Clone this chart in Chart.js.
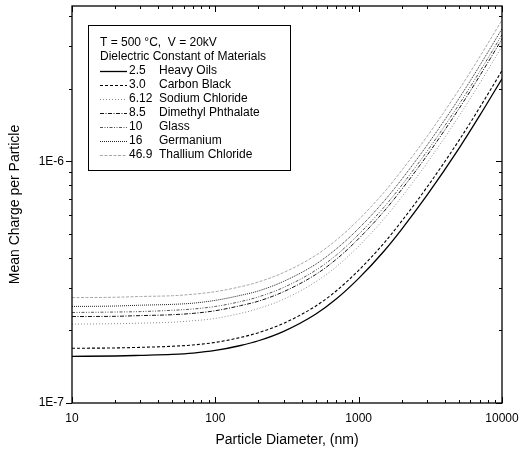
<!DOCTYPE html>
<html>
<head>
<meta charset="utf-8">
<script src="https://cdn.jsdelivr.net/npm/chart.js@4.4.0/dist/chart.umd.min.js"></script>
<style>
  html, body { margin: 0; padding: 0; background: #fff; }
  #wrap { width: 519px; height: 452px; position: relative; }
</style>
</head>
<body>
<div id="wrap"><canvas id="c" width="519" height="452"></canvas></div>
<script>
// Particle diameter, nm
const diameters = [10, 20, 30, 50, 70, 100, 150, 200, 300, 500, 700, 1000, 1500, 2000, 3000, 5000, 7000, 10000];

// Mean charge per particle, in units of 1E-7
const heavyOils     = [1.56, 1.565, 1.575, 1.59, 1.61, 1.65, 1.73, 1.81, 1.98, 2.33, 2.70, 3.28, 4.25, 5.25, 7.25, 11.3, 15.5, 22.0];
const carbonBlack   = [1.685, 1.69, 1.70, 1.717, 1.739, 1.782, 1.868, 1.955, 2.138, 2.516, 2.916, 3.542, 4.59, 5.67, 7.83, 12.2, 16.74, 23.76];
const sodiumChlor   = [2.12, 2.13, 2.14, 2.16, 2.19, 2.24, 2.35, 2.46, 2.69, 3.17, 3.67, 4.46, 5.78, 7.14, 9.86, 15.37, 21.08, 29.92];
const dimethylPhth  = [2.28, 2.285, 2.30, 2.32, 2.35, 2.41, 2.53, 2.64, 2.89, 3.40, 3.94, 4.79, 6.21, 7.67, 10.59, 16.5, 22.63, 32.12];
const glass         = [2.37, 2.38, 2.39, 2.42, 2.45, 2.51, 2.63, 2.75, 3.01, 3.54, 4.10, 4.99, 6.46, 7.98, 11.02, 17.18, 23.56, 33.44];
const germanium     = [2.51, 2.52, 2.54, 2.56, 2.59, 2.66, 2.79, 2.91, 3.19, 3.75, 4.35, 5.28, 6.84, 8.45, 11.67, 18.19, 24.96, 35.42];
const thallium      = [2.73, 2.74, 2.76, 2.78, 2.82, 2.89, 3.03, 3.17, 3.47, 4.08, 4.73, 5.74, 7.44, 9.19, 12.69, 19.78, 27.13, 38.5];

const constants = ['2.5', '3.0', '6.12', '8.5', '10', '16', '46.9'];
const materials = ['Heavy Oils', 'Carbon Black', 'Sodium Chloride', 'Dimethyl Phthalate', 'Glass', 'Germanium', 'Thallium Chloride'];

// axis ticks
const xMajor = [10, 100, 1000, 10000];
const xLabels = ['10', '100', '1000', '10000'];
const yMajor = [1, 10];
const yLabels = ['1E-7', '1E-6'];

const FONT = 'Arial, "Liberation Sans", Helvetica, sans-serif';

const styles = [
    { color: '#000', dash: [], width: 1.3 },
    { color: '#000', dash: [3, 2], width: 1.1 },
    { color: '#8a8a8a', dash: [1, 2], width: 1 },
    { color: '#111', dash: [4, 1.5, 1, 1.5], width: 1 },
    { color: '#555', dash: [3, 1.5, 1, 1.5, 1, 1.5], width: 1 },
    { color: '#222', dash: [1, 1], width: 1 },
    { color: '#a8a8a8', dash: [3, 1.5], width: 1 }
];

const seriesList = [heavyOils, carbonBlack, sodiumChlor, dimethylPhth, glass, germanium, thallium];

const datasets = seriesList.map((vals, i) => ({
    label: constants[i] + ' ' + materials[i],
    data: diameters.map((d, k) => ({ x: d, y: vals[k] })),
    borderColor: styles[i].color,
    borderDash: styles[i].dash,
    borderWidth: styles[i].width,
    pointRadius: 0,
    fill: false,
    cubicInterpolationMode: 'monotone'
}));

// minor ticks for a log scale between min and max
function minorTicks(min, max) {
    const out = [];
    for (let p = Math.floor(Math.log10(min)); p <= Math.ceil(Math.log10(max)); p++) {
        for (let m = 2; m <= 9; m++) {
            const v = m * Math.pow(10, p);
            if (v > min && v < max) out.push(v);
        }
    }
    return out;
}

const framePlugin = {
    id: 'frame',
    afterDraw(chart) {
        const ctx = chart.ctx;
        const a = chart.chartArea;
        const xs = chart.scales.x, ys = chart.scales.y;
        ctx.save();
        ctx.strokeStyle = '#000';
        ctx.lineWidth = 1.3;
        ctx.strokeRect(a.left, a.top, a.right - a.left, a.bottom - a.top);

        ctx.lineWidth = 1;
        ctx.beginPath();
        // x ticks, pointing inward
        xMajor.forEach(v => {
            const px = Math.round(xs.getPixelForValue(v)) + 0.5;
            ctx.moveTo(px, a.bottom); ctx.lineTo(px, a.bottom - 6);
            ctx.moveTo(px, a.top); ctx.lineTo(px, a.top + 6);
        });
        minorTicks(10, 10000).forEach(v => {
            const px = Math.round(xs.getPixelForValue(v)) + 0.5;
            ctx.moveTo(px, a.bottom); ctx.lineTo(px, a.bottom - 3);
            ctx.moveTo(px, a.top); ctx.lineTo(px, a.top + 3);
        });
        // y ticks: outward on left, inward on right
        yMajor.forEach(v => {
            const py = Math.round(ys.getPixelForValue(v)) + 0.5;
            ctx.moveTo(a.left, py); ctx.lineTo(a.left - 6, py);
            ctx.moveTo(a.right, py); ctx.lineTo(a.right - 6, py);
        });
        minorTicks(1, ys.max).forEach(v => {
            const py = Math.round(ys.getPixelForValue(v)) + 0.5;
            ctx.moveTo(a.left, py); ctx.lineTo(a.left - 3, py);
            ctx.moveTo(a.right, py); ctx.lineTo(a.right - 3, py);
        });
        ctx.stroke();

        // tick labels
        ctx.fillStyle = '#000';
        ctx.font = '12px ' + FONT;
        ctx.textAlign = 'center';
        ctx.textBaseline = 'top';
        xMajor.forEach((v, i) => {
            ctx.fillText(xLabels[i], xs.getPixelForValue(v), a.bottom + 10);
        });
        ctx.textAlign = 'right';
        ctx.textBaseline = 'middle';
        yMajor.forEach((v, i) => {
            ctx.fillText(yLabels[i], a.left - 8, ys.getPixelForValue(v));
        });

        // axis titles
        ctx.font = '14px ' + FONT;
        ctx.textAlign = 'center';
        ctx.fillText('Particle Diameter, (nm)', (a.left + a.right) / 2, 440);
        ctx.save();
        ctx.translate(15, (a.top + a.bottom) / 2);
        ctx.rotate(-Math.PI / 2);
        ctx.fillText('Mean Charge per Particle', 0, 0);
        ctx.restore();

        // legend box
        ctx.lineWidth = 1;
        ctx.strokeRect(88.5, 25.5, 202, 145);
        ctx.font = '12px ' + FONT;
        ctx.textAlign = 'left';
        ctx.fillText('T = 500 \u00B0C,  V = 20kV', 100, 43);
        ctx.fillText('Dielectric Constant of Materials', 100, 57);
        for (let i = 0; i < materials.length; i++) {
            const y = 71 + i * 14;
            ctx.save();
            ctx.strokeStyle = styles[i].color;
            ctx.lineWidth = styles[i].width;
            ctx.setLineDash(styles[i].dash);
            ctx.beginPath();
            ctx.moveTo(100, y + 0.5);
            ctx.lineTo(127, y + 0.5);
            ctx.stroke();
            ctx.restore();
            ctx.fillText(constants[i], 129, y);
            ctx.fillText(materials[i], 159, y);
        }
        ctx.restore();
    }
};

new Chart(document.getElementById('c').getContext('2d'), {
    type: 'line',
    data: { datasets: datasets },
    options: {
        responsive: false,
        animation: false,
        layout: { padding: { left: 72, right: 17, top: 6, bottom: 49 } },
        plugins: { legend: { display: false }, tooltip: { enabled: false } },
        scales: {
            x: { type: 'logarithmic', min: 10, max: 10000, display: false },
            y: { type: 'logarithmic', min: 1, max: 44, display: false }
        }
    },
    plugins: [framePlugin]
});
</script>
</body>
</html>
